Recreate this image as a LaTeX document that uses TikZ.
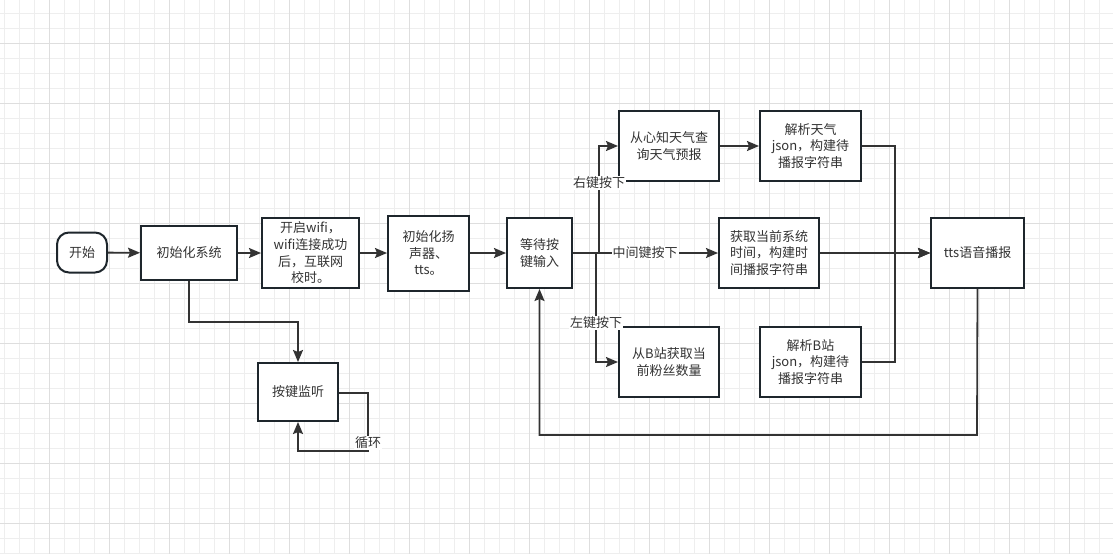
\documentclass[tikz,border=0pt]{standalone}
\usepackage{fontspec}
\setmainfont{Noto Sans CJK SC}
\usetikzlibrary{arrows.meta}
\definecolor{gridminor}{HTML}{EEEEEE}
\definecolor{gridmajor}{HTML}{DEDEDE}
\definecolor{boxline}{HTML}{1E262C}
\definecolor{edgeline}{HTML}{333333}
\definecolor{txt}{HTML}{333333}
\tikzset{
  box/.style={draw=boxline, line width=2pt, fill=white, rectangle, inner sep=2pt, align=center, text=txt,
    font=\fontsize{13}{16.7}\selectfont},
  term/.style={box, rounded corners=12pt},
  arr/.style={draw=edgeline, line width=1.8pt, -{Stealth[length=12pt,width=10pt,inset=2pt]}},
  ln/.style={draw=edgeline, line width=1.8pt},
  elabel/.style={fill=white, text=txt, inner sep=1pt, font=\fontsize{13}{15}\selectfont}
}
\begin{document}
\begin{tikzpicture}[x=1pt,y=-1pt]
\useasboundingbox (0,0) rectangle (1113,554);
\fill[white] (0,0) rectangle (1113,554);
\foreach \x in {4,19,...,1113} \draw[gridminor, line width=1pt] (\x,0) -- (\x,554);
\foreach \y in {13,28,...,554} \draw[gridminor, line width=1pt] (0,\y) -- (1113,\y);
\foreach \x in {49,109,...,1113} \draw[gridmajor, line width=1pt] (\x,0) -- (\x,554);
\foreach \y in {43,103,...,554} \draw[gridmajor, line width=1pt] (0,\y) -- (1113,\y);

\node[term, minimum width=50pt, minimum height=40pt] (start) at (82,252.5) {开始};
\node[box, minimum width=96pt, minimum height=54pt] (init) at (189,253) {初始化系统};
\node[box, minimum width=97pt, minimum height=70pt] (wifi) at (310.5,253) {开启wifi，\\wifi连接成功\\后，互联网\\校时。};
\node[box, minimum width=81pt, minimum height=75pt] (spk) at (428.5,253) {初始化扬\\声器、\\tts。};
\node[box, minimum width=65pt, minimum height=70pt] (wait) at (539.5,253) {等待按\\键输入};
\node[box, minimum width=100pt, minimum height=70pt] (weather) at (669,146) {从心知天气查\\询天气预报};
\node[box, minimum width=101pt, minimum height=70pt] (pw) at (810.5,146) {解析天气\\json，构建待\\播报字符串};
\node[box, minimum width=100pt, minimum height=70pt] (time) at (769,253) {获取当前系统\\时间，构建时\\间播报字符串};
\node[box, minimum width=100pt, minimum height=70pt] (bili) at (669,362) {从B站获取当\\前粉丝数量};
\node[box, minimum width=101pt, minimum height=70pt] (pb) at (810.5,362) {解析B站\\json，构建待\\播报字符串};
\node[box, minimum width=93pt, minimum height=70pt] (tts) at (977.5,253) {tts语音播报};
\node[box, minimum width=80pt, minimum height=58pt] (listen) at (298,392) {按键监听};

\coordinate (c1) at (189,322);
\coordinate (l1) at (368,393);
\coordinate (l2) at (368,451);
\coordinate (bU) at (599,253);
\coordinate (bD) at (596,253);
\coordinate (jx) at (895,253);
\coordinate (bk) at (977,435);

\draw[arr] (start) -- (init);
\draw[arr] (init) -- (wifi);
\draw[arr] (wifi) -- (spk);
\draw[arr] (spk) -- (wait);
\draw[arr] (init.south) -- (c1) -| (listen.north);
\draw[arr] (listen.east |- l1) -- (l1) -- (l2) -| (listen.south);
\node[elabel] (lbl0) at (368,443) {循环};

\draw[arr] (wait.east) -- (bU) |- (weather.west);
\draw[arr] (wait.east) -- (bD) |- (bili.west);
\draw[arr] (wait.east) -- (time.west);
\node[elabel] (lbl1) at (599,183) {右键按下};
\node[elabel] (lbl2) at (596,323) {左键按下};
\node[elabel] (lbl3) at (645,253) {中间键按下};

\draw[arr] (weather) -- (pw);
\draw[arr] (pw.east) -- (pw.east -| jx) -- (jx) -- (tts.west);
\draw[arr] (pb.east) -- (pb.east -| jx) -- (jx) -- (tts.west);
\draw[arr] (time) -- (tts);
\draw[arr] (tts.south) -- (bk) -| (wait.south);
\end{tikzpicture}
\end{document}
